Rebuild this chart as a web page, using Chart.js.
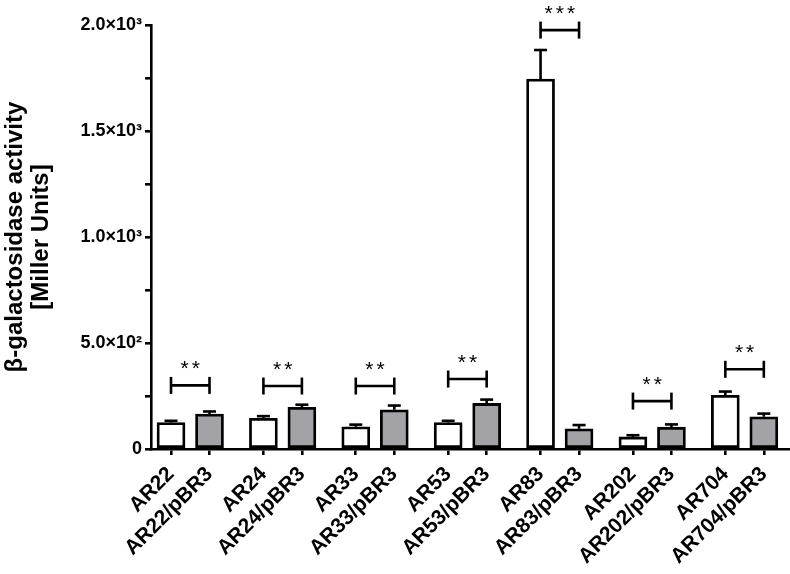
<!DOCTYPE html>
<html>
<head>
<meta charset="utf-8">
<script src="https://cdn.jsdelivr.net/npm/chart.js@4.4.1/dist/chart.umd.min.js"></script>
<style>
  html, body { margin: 0; padding: 0; background: #fff; }
  #wrap { width: 790px; height: 574px; position: relative; }
</style>
</head>
<body>
<div id="wrap"><canvas id="chart"></canvas></div>
<script>
// values (Miller units)
const strains = ['AR22', 'AR24', 'AR33', 'AR53', 'AR83', 'AR202', 'AR704'];
const xTickLabels = ['AR22', 'AR22/pBR3', 'AR24', 'AR24/pBR3', 'AR33', 'AR33/pBR3', 'AR53', 'AR53/pBR3',
  'AR83', 'AR83/pBR3', 'AR202', 'AR202/pBR3', 'AR704', 'AR704/pBR3'];
const controlValues = [125, 145, 105, 125, 1745, 57, 253];
const controlErrors = [8, 10, 10, 8, 137, 8, 18];
const pbr3Values = [165, 197, 185, 215, 95, 103, 152];
const pbr3Errors = [12, 12, 20, 18, 18, 13, 15];
const bracketLevels = [300, 297, 297, 330, 1976, 226, 376];
const stars = ['**', '**', '**', '**', '***', '**', '**'];
const yTickValues = [0, 500, 1000, 1500, 2000];
const yTickLabels = ['0', '5.0×10²', '1.0×10³', '1.5×10³', '2.0×10³'];

const pairStep = 2.4; // distance between pairs, in bar units
const FONT = '"Liberation Sans", Arial, sans-serif';

const xPositions = [];
strains.forEach((s, i) => { xPositions.push(i * pairStep, i * pairStep + 1); });

const marks = {
  id: 'marks',
  afterDatasetsDraw(chart) {
    const { ctx, scales: { x, y } } = chart;
    ctx.save();
    ctx.strokeStyle = '#000';
    ctx.fillStyle = '#000';
    ctx.lineWidth = 2.6;
    const line = (x0, y0, x1, y1) => {
      ctx.beginPath(); ctx.moveTo(x0, y0); ctx.lineTo(x1, y1); ctx.stroke();
    };

    strains.forEach((s, i) => {
      // error bars (upper only)
      [[controlValues, controlErrors, 0], [pbr3Values, pbr3Errors, 1]].forEach(([vals, errs, j]) => {
        const px = x.getPixelForValue(i * pairStep + j);
        const top = y.getPixelForValue(vals[i]);
        const e = y.getPixelForValue(vals[i] + errs[i]);
        line(px, top, px, e);
        line(px - 6.5, e, px + 6.5, e);
      });

      // significance bracket
      const x0 = x.getPixelForValue(i * pairStep);
      const x1 = x.getPixelForValue(i * pairStep + 1);
      const by = y.getPixelForValue(bracketLevels[i]);
      line(x0, by, x1, by);
      line(x0, by - 8.5, x0, by + 8.5);
      line(x1, by - 8.5, x1, by + 8.5);

      ctx.font = '21px ' + FONT;
      ctx.letterSpacing = '3px';
      ctx.textAlign = 'center';
      ctx.textBaseline = 'alphabetic';
      ctx.fillText(stars[i], (x0 + x1) / 2 + 1.5, by - 10);
    });
    ctx.restore();
  }
};

new Chart(document.getElementById('chart'), {
  type: 'bar',
  data: {
    datasets: [
      {
        label: 'strain',
        data: strains.map((s, i) => ({ x: i * pairStep, y: controlValues[i] })),
        backgroundColor: '#ffffff',
        borderColor: '#000000',
        borderWidth: 2.8,
        borderSkipped: false,
        barThickness: 28,
        grouped: false
      },
      {
        label: 'strain/pBR3',
        data: strains.map((s, i) => ({ x: i * pairStep + 1, y: pbr3Values[i] })),
        backgroundColor: '#a2a2a7',
        borderColor: '#000000',
        borderWidth: 2.8,
        borderSkipped: false,
        barThickness: 28,
        grouped: false
      }
    ]
  },
  options: {
    responsive: true,
    maintainAspectRatio: false,
    animation: false,
    devicePixelRatio: 1,
    layout: { padding: { top: 25, right: 0, bottom: 0, left: 0 } },
    plugins: { legend: { display: false }, tooltip: { enabled: false } },
    scales: {
      x: {
        type: 'linear',
        min: -0.52,
        max: 16.08,
        offset: false,
        afterBuildTicks: s => { s.ticks = xPositions.map(v => ({ value: v })); },
        afterFit: s => { s.height = 125; },
        ticks: {
          autoSkip: false,
          minRotation: 45,
          maxRotation: 45,
          padding: 7,
          color: '#000',
          font: { family: FONT, size: 21, weight: 'bold' },
          callback: (v, i) => xTickLabels[i]
        },
        grid: { offset: false, drawOnChartArea: false, drawTicks: true, tickLength: 6, color: '#000', lineWidth: 2.6 },
        border: { color: '#000', width: 2.6 }
      },
      y: {
        min: 0,
        max: 2000,
        afterFit: s => { s.width = 151; },
        ticks: {
          stepSize: 250,
          padding: 3,
          color: '#000',
          font: { family: FONT, size: 18, weight: 'bold' },
          callback: v => {
            const k = yTickValues.indexOf(v);
            return k >= 0 ? yTickLabels[k] : '';
          }
        },
        grid: { drawOnChartArea: false, drawTicks: true, tickLength: 6, color: '#000', lineWidth: 2.6 },
        border: { color: '#000', width: 2.6 },
        title: {
          display: true,
          text: ['β-galactosidase activity', '[Miller Units]'],
          color: '#000',
          font: { family: FONT, size: 24, weight: 'bold', lineHeight: 1.1 },
          padding: { top: 2, bottom: 0 }
        }
      }
    }
  },
  plugins: [marks]
});
</script>
</body>
</html>
